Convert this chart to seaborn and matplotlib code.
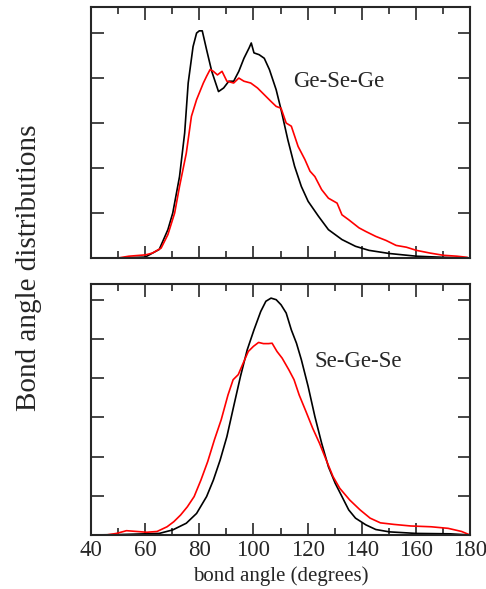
import numpy as np
import pandas as pd
import matplotlib
matplotlib.use("Agg")
import matplotlib.pyplot as plt
import seaborn as sns
from matplotlib.ticker import MultipleLocator, NullFormatter

# -------------------- DATA --------------------
# Ge-Se-Ge (top panel)
gsg_black_x = [40, 50, 60, 65.2, 68.4, 70.2, 72.7, 74.6, 75.9, 77.7, 79, 80, 81.1, 82.7, 84.6,
               87.1, 89, 90.9, 92.7, 94.6, 96.5, 98.4, 99.2, 100.2, 102.1, 104, 105.9, 108.4,
               110.2, 112.7, 115.2, 117.7, 120.2, 124, 127.7, 132.7, 137.7, 142.7, 150.2,
               160.2, 170.2, 179]
gsg_black_y = [0, 0, 0.02, 0.19, 0.63, 1.0, 1.81, 2.78, 3.89, 4.70, 5.0, 5.05, 5.05, 4.63, 4.15,
               3.70, 3.78, 3.93, 3.93, 4.15, 4.44, 4.67, 4.78, 4.56, 4.52, 4.44, 4.19, 3.74,
               3.30, 2.63, 2.04, 1.59, 1.26, 0.93, 0.63, 0.41, 0.26, 0.17, 0.10,
               0.04, 0.015, 0]

gsg_red_x = [40, 50, 54, 60.2, 62.7, 65.9, 68.4, 70.9, 72.7, 75.2, 77.1, 79, 81.5, 82.7, 84,
             85.2, 86.7, 88.4, 90.2, 92.7, 94.6, 96.5, 99, 101.5, 104, 106.5, 108.4, 110.2,
             112.1, 114, 116.5, 119, 120.9, 122.7, 125.2, 127.7, 130.9, 132.7, 135.2, 139,
             141.5, 145.2, 149, 152.7, 156.5, 160.2, 165.2, 170.2, 175.2, 179]
gsg_red_y = [0, 0, 0.04, 0.07, 0.11, 0.22, 0.52, 1.0, 1.59, 2.33, 3.15, 3.52, 3.89, 4.04, 4.19,
             4.15, 4.07, 4.15, 3.93, 3.89, 4.0, 3.93, 3.89, 3.78, 3.63, 3.48, 3.37, 3.33,
             3.0, 2.93, 2.48, 2.19, 1.93, 1.81, 1.52, 1.33, 1.22, 0.96, 0.85, 0.67,
             0.59, 0.48, 0.39, 0.28, 0.24, 0.17, 0.11, 0.06, 0.04, 0.015]

# Se-Ge-Se (bottom panel)
sgs_black_x = [40, 50, 60, 65.2, 70.2, 75.2, 79, 82.7, 85.2, 87.7, 90.2, 92.7, 95.2, 97.7,
               100.2, 102.7, 104.6, 106.5, 108.4, 110.2, 112.1, 114, 115.9, 117.7, 120.2,
               122.7, 125.2, 127.7, 130.2, 132.7, 135.2, 137.7, 141.5, 145.2, 150.2, 160.2,
               172.7, 180]
sgs_black_y = [0, 0.01, 0.03, 0.04, 0.13, 0.30, 0.55, 0.98, 1.40, 1.91, 2.51, 3.28, 4.04, 4.72,
               5.23, 5.70, 5.96, 6.04, 6.0, 5.87, 5.66, 5.23, 4.89, 4.47, 3.79,
               3.02, 2.34, 1.74, 1.32, 0.98, 0.64, 0.43, 0.26, 0.14, 0.08, 0.04,
               0.03, 0]

sgs_red_x = [40, 45.6, 49.4, 53.1, 56.9, 60.6, 64.4, 68.1, 70.6, 73.1, 75.6, 78.1, 80.6, 83.1,
             85.6, 88.1, 90.6, 92.5, 94.4, 96.2, 98.1, 100, 101.9, 103.7, 105.6, 106.9,
             108.7, 110.6, 113.1, 115, 116.9, 119.4, 121.9, 124.4, 126.9, 129.4, 131.9,
             135.6, 139.4, 143.1, 146.9, 151.9, 158.1, 165.6, 171.9, 176.9, 180]
sgs_red_y = [0, 0, 0.04, 0.11, 0.09, 0.07, 0.09, 0.21, 0.34, 0.51, 0.72, 0.98, 1.40, 1.87,
             2.43, 2.94, 3.57, 3.96, 4.09, 4.38, 4.68, 4.81, 4.91, 4.88, 4.88, 4.89,
             4.68, 4.51, 4.21, 3.96, 3.57, 3.15, 2.72, 2.34, 1.91, 1.49, 1.19,
             0.89, 0.64, 0.43, 0.31, 0.27, 0.23, 0.21, 0.17, 0.09, 0]

panel_labels = ["Ge-Se-Ge", "Se-Ge-Se"]
x_ticks = [40, 60, 80, 100, 120, 140, 160, 180]
# ---------------------------------------------

sns.set_style("ticks")
plt.rcParams['font.family'] = ['Liberation Serif', 'DejaVu Serif']

fig = plt.figure(figsize=(4.86, 5.89), dpi=100)
ax1 = fig.add_axes([91 / 486, 331 / 589, 379 / 486, 251 / 589])
ax2 = fig.add_axes([91 / 486, 54 / 589, 379 / 486, 251 / 589])

sns.lineplot(x=gsg_black_x, y=gsg_black_y, ax=ax1, color='black', lw=1.2)
sns.lineplot(x=gsg_red_x, y=gsg_red_y, ax=ax1, color='red', lw=1.2)
sns.lineplot(x=sgs_black_x, y=sgs_black_y, ax=ax2, color='black', lw=1.2)
sns.lineplot(x=sgs_red_x, y=sgs_red_y, ax=ax2, color='red', lw=1.2)

ax1.set_ylim(0, 5.58)
ax2.set_ylim(0, 6.40)

for ax in (ax1, ax2):
    ax.set_xlim(40, 180)
    ax.set_xticks(x_ticks)
    ax.xaxis.set_minor_locator(MultipleLocator(10))
    ax.yaxis.set_major_locator(MultipleLocator(1))
    ax.yaxis.set_major_formatter(NullFormatter())
    ax.tick_params(which='both', direction='in', top=True, bottom=True, left=True, right=True,
                   width=1.2, labelsize=16.5)
    ax.tick_params(which='major', length=9)
    ax.tick_params(which='minor', length=5)
    for sp in ax.spines.values():
        sp.set_linewidth(1.5)
    ax.set_xlabel('')
    ax.set_ylabel('')

ax1.xaxis.set_major_formatter(NullFormatter())
ax1.text(114.6, 3.93, panel_labels[0], fontsize=16.5, ha='left', va='center')
ax2.text(122.7, 4.43, panel_labels[1], fontsize=16.5, ha='left', va='center')

ax2.set_xlabel('bond angle (degrees)', fontsize=15, labelpad=4)
fig.text(29 / 486, 1 - 268 / 589, 'Bond angle distributions', rotation=90,
         fontsize=21, ha='center', va='center')

fig.savefig('out.png', dpi=100)
